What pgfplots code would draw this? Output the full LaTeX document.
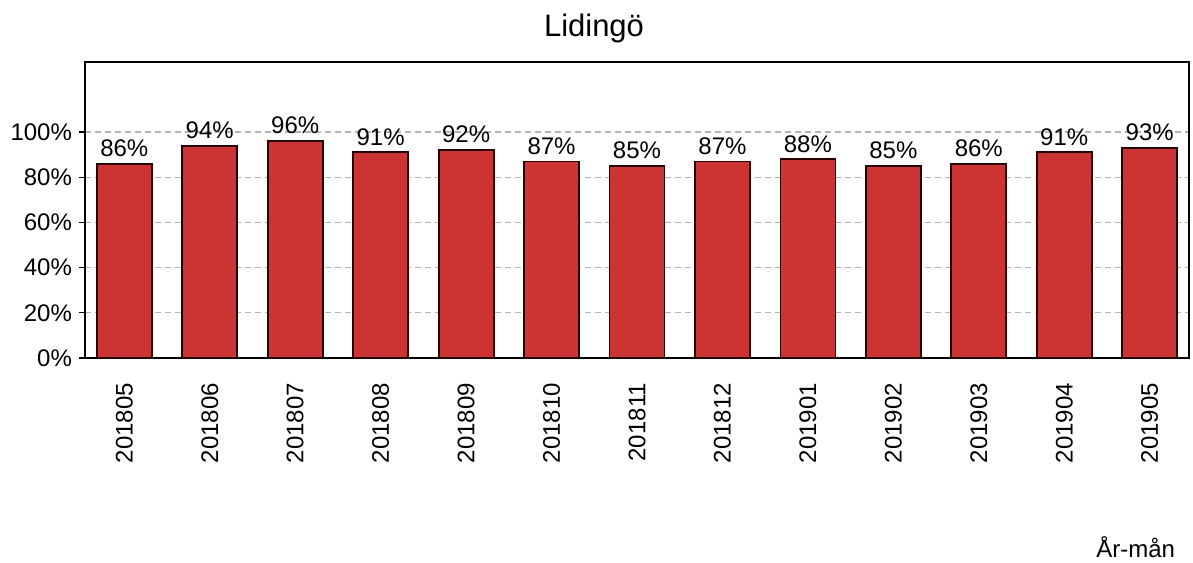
\documentclass[border=0pt]{standalone}
\usepackage{pgfplots}
\pgfplotsset{compat=1.18}
\usepackage{fontspec}
\setmainfont{Liberation Sans}
\definecolor{barred}{RGB}{204,51,51}
\definecolor{gridgray}{RGB}{180,180,180}
\begin{document}
\begin{tikzpicture}
\useasboundingbox (0,0) rectangle (596.5pt,281pt);
\begin{axis}[
  at={(42.5pt,102pt)}, anchor=south west,
  scale only axis, width=552pt, height=148pt,
  xmin=-0.46, xmax=12.46, ymin=0, ymax=131,
  axis line style={line width=1pt},
  ytick={0,20,...,100},
  yticklabel={\pgfmathprintnumber{\tick}\%},
  /pgf/number format/assume math mode=true,
  ymajorgrids, grid style={gridgray, dash pattern=on 3pt off 2pt, line width=0.6pt},
  xtick=data,
  xticklabels={201805,201806,201807,201808,201809,201810,201811,201812,201901,201902,201903,201904,201905},
  x tick label style={rotate=90, anchor=east, xshift=-6pt, font=\fontsize{12pt}{13pt}\selectfont},
  y tick label style={font=\fontsize{12pt}{13pt}\selectfont},
  major x tick style={draw=none},
  tick style={black, line width=0.6pt},
  tick align=outside, ytick pos=left, xtick pos=bottom,
  major tick length=3pt,
  nodes near coords={\pgfmathprintnumber{\pgfplotspointmeta}\%},
  nodes near coords style={font=\fontsize{12pt}{13pt}\selectfont, inner sep=3pt},
  ]
\addplot[ybar, bar width=27.5pt, fill=barred, draw=black!85!red, line width=0.9pt]
  coordinates {
  (0,86) (1,94) (2,96) (3,91) (4,92) (5,87) (6,85)
  (7,87) (8,88) (9,85) (10,86) (11,91) (12,93)
  };
\end{axis}
\node at (297pt,267pt) {\fontsize{15.5pt}{18pt}\selectfont Lidingö};
\node[anchor=east] at (591pt,7.5pt) {\fontsize{12pt}{13pt}\selectfont År-mån};
\end{tikzpicture}
\end{document}
